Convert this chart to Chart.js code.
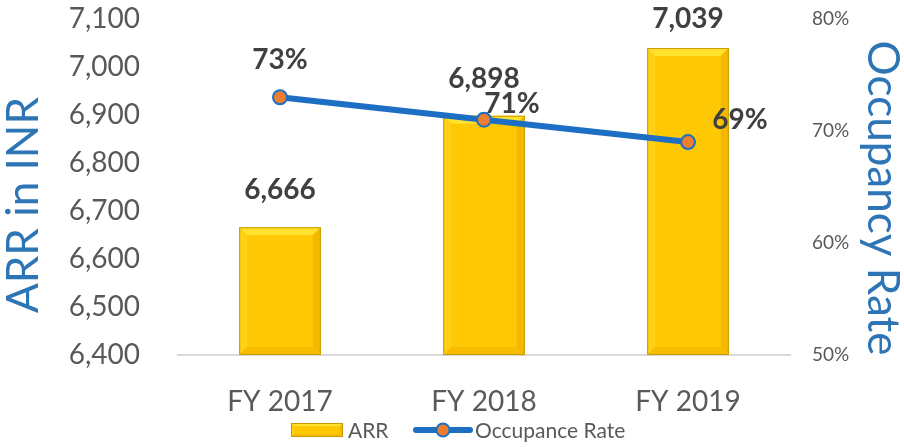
<!DOCTYPE html>
<html>
<head>
<meta charset="utf-8">
<script src="https://cdn.jsdelivr.net/npm/chart.js@4.4.1/dist/chart.umd.min.js"></script>
<style>
  html, body { margin: 0; padding: 0; background: #ffffff; }
  #wrap { width: 904px; height: 447px; }
</style>
</head>
<body>
<div id="wrap"><canvas id="arrChart" width="904" height="447"></canvas></div>
<script>
// data
const years = ["FY 2017", "FY 2018", "FY 2019"];
const arrValues = [6666, 6898, 7039];
const occupancy = [73, 71, 69];
const arrTicks = [6400, 6500, 6600, 6700, 6800, 6900, 7000, 7100];
const occTicks = [50, 60, 70, 80];

const FONT = "Lato, 'Open Sans', sans-serif";
const GREY = "#595959";
const BLUE = "#1C6FC2";
const BLUE_TITLE = "#2E75B6";

// label offsets for the percentage labels (Excel moved them around)
const occLabelShift = [[0, -37], [28, -16], [52, -22]];

function fmt(v) { return v.toLocaleString("en-US"); }

function drawBevelBar(ctx, left, top, right, bottom, b) {
    ctx.save();
    ctx.fillStyle = "#FFC805";
    ctx.fillRect(left, top, right - left, bottom - top);
    // top bevel
    ctx.fillStyle = "#FFE22E";
    ctx.beginPath();
    ctx.moveTo(left, top); ctx.lineTo(right, top);
    ctx.lineTo(right - b, top + b); ctx.lineTo(left + b, top + b);
    ctx.closePath(); ctx.fill();
    // left bevel
    ctx.fillStyle = "#FFD014";
    ctx.beginPath();
    ctx.moveTo(left, top); ctx.lineTo(left + b, top + b);
    ctx.lineTo(left + b, bottom - b); ctx.lineTo(left, bottom);
    ctx.closePath(); ctx.fill();
    // right bevel
    ctx.fillStyle = "#F2B900";
    ctx.beginPath();
    ctx.moveTo(right, top); ctx.lineTo(right - b, top + b);
    ctx.lineTo(right - b, bottom - b); ctx.lineTo(right, bottom);
    ctx.closePath(); ctx.fill();
    // bottom bevel
    ctx.fillStyle = "#F7BC00";
    ctx.beginPath();
    ctx.moveTo(left, bottom); ctx.lineTo(left + b, bottom - b);
    ctx.lineTo(right - b, bottom - b); ctx.lineTo(right, bottom);
    ctx.closePath(); ctx.fill();
    ctx.strokeStyle = "#C99A00";
    ctx.lineWidth = 1;
    ctx.strokeRect(left + 0.5, top + 0.5, right - left - 1, bottom - top - 1);
    ctx.restore();
}

const bevelBars = {
    id: "bevelBars",
    afterDatasetDraw(chart, args) {
        if (args.index !== 0) return;
        const ctx = chart.ctx;
        const bottom = chart.chartArea.bottom;
        chart.getDatasetMeta(0).data.forEach(bar => {
            const w = bar.width;
            drawBevelBar(ctx, bar.x - w / 2, bar.y, bar.x + w / 2, Math.min(bar.base, bottom), 8);
        });
    }
};

const extras = {
    id: "extras",
    afterDraw(chart) {
        const ctx = chart.ctx;
        const area = chart.chartArea;
        ctx.save();

        // value labels on bars
        ctx.font = "bold 28px " + FONT;
        ctx.fillStyle = "#404040";
        ctx.textAlign = "center";
        ctx.textBaseline = "middle";
        chart.getDatasetMeta(0).data.forEach((bar, i) => {
            const y = Math.max(bar.y - 37, area.top);
            ctx.fillText(fmt(arrValues[i]), bar.x, y);
        });
        // labels on line points
        chart.getDatasetMeta(1).data.forEach((pt, i) => {
            const s = occLabelShift[i];
            ctx.fillText(occupancy[i] + "%", pt.x + s[0], pt.y + s[1]);
        });

        // axis titles
        ctx.fillStyle = BLUE_TITLE;
        ctx.font = "44px " + FONT;
        ctx.save();
        ctx.translate(24, 205);
        ctx.rotate(-Math.PI / 2);
        ctx.fillText("ARR in INR", 0, 0);
        ctx.restore();
        ctx.save();
        ctx.translate(882, 198);
        ctx.rotate(Math.PI / 2);
        ctx.fillText("Occupancy Rate", 0, 0);
        ctx.restore();

        // legend
        const ly = 430;
        drawBevelBar(ctx, 291, ly - 7, 343, ly + 7, 3);
        ctx.font = "21px " + FONT;
        ctx.fillStyle = GREY;
        ctx.textAlign = "left";
        ctx.fillText("ARR", 348, ly + 1);
        ctx.strokeStyle = BLUE;
        ctx.lineWidth = 6;
        ctx.lineCap = "round";
        ctx.beginPath();
        ctx.moveTo(416, ly); ctx.lineTo(470, ly);
        ctx.stroke();
        ctx.beginPath();
        ctx.arc(443, ly, 6.5, 0, Math.PI * 2);
        ctx.fillStyle = "#ED7D31";
        ctx.fill();
        ctx.lineWidth = 2;
        ctx.stroke();
        ctx.fillStyle = GREY;
        ctx.fillText("Occupance Rate", 475, ly + 1);

        ctx.restore();
    }
};

new Chart(document.getElementById("arrChart"), {
    data: {
        labels: years,
        datasets: [
            {
                type: "bar",
                label: "ARR",
                data: arrValues,
                yAxisID: "yArr",
                backgroundColor: "rgba(0,0,0,0)",
                barPercentage: 0.4,
                categoryPercentage: 1,
                order: 2
            },
            {
                type: "line",
                label: "Occupance Rate",
                data: occupancy,
                yAxisID: "yOcc",
                borderColor: BLUE,
                borderWidth: 6,
                pointRadius: 7,
                pointBackgroundColor: "#ED7D31",
                pointBorderColor: BLUE,
                pointBorderWidth: 2,
                tension: 0,
                order: 1
            }
        ]
    },
    options: {
        responsive: false,
        animation: false,
        layout: { padding: 0 },
        plugins: {
            legend: { display: false },
            tooltip: { enabled: false }
        },
        scales: {
            x: {
                grid: { display: false },
                border: { display: true, color: "#D9D9D9", width: 2 },
                ticks: { color: GREY, font: { family: FONT, size: 28 }, padding: 22 },
                afterFit(scale) { scale.height = 92; }
            },
            yArr: {
                position: "left",
                min: arrTicks[0],
                max: arrTicks[arrTicks.length - 1],
                // tick marks hidden, their length only pushes the labels off the plot
                grid: { display: false, drawTicks: true, tickLength: 36 },
                border: { display: false },
                afterBuildTicks(scale) { scale.ticks = arrTicks.map(v => ({ value: v })); },
                ticks: {
                    color: GREY,
                    font: { family: FONT, size: 28 },
                    padding: 2,
                    callback: v => fmt(v)
                },
                afterFit(scale) { scale.width = 178; }
            },
            yOcc: {
                position: "right",
                min: occTicks[0],
                max: occTicks[occTicks.length - 1],
                grid: { display: false, drawTicks: true, tickLength: 20 },
                border: { display: false },
                afterBuildTicks(scale) { scale.ticks = occTicks.map(v => ({ value: v })); },
                ticks: {
                    color: GREY,
                    font: { family: FONT, size: 19 },
                    padding: 2,
                    callback: v => v + "%"
                },
                afterFit(scale) { scale.width = 114; }
            }
        }
    },
    plugins: [bevelBars, extras]
});
</script>
</body>
</html>
